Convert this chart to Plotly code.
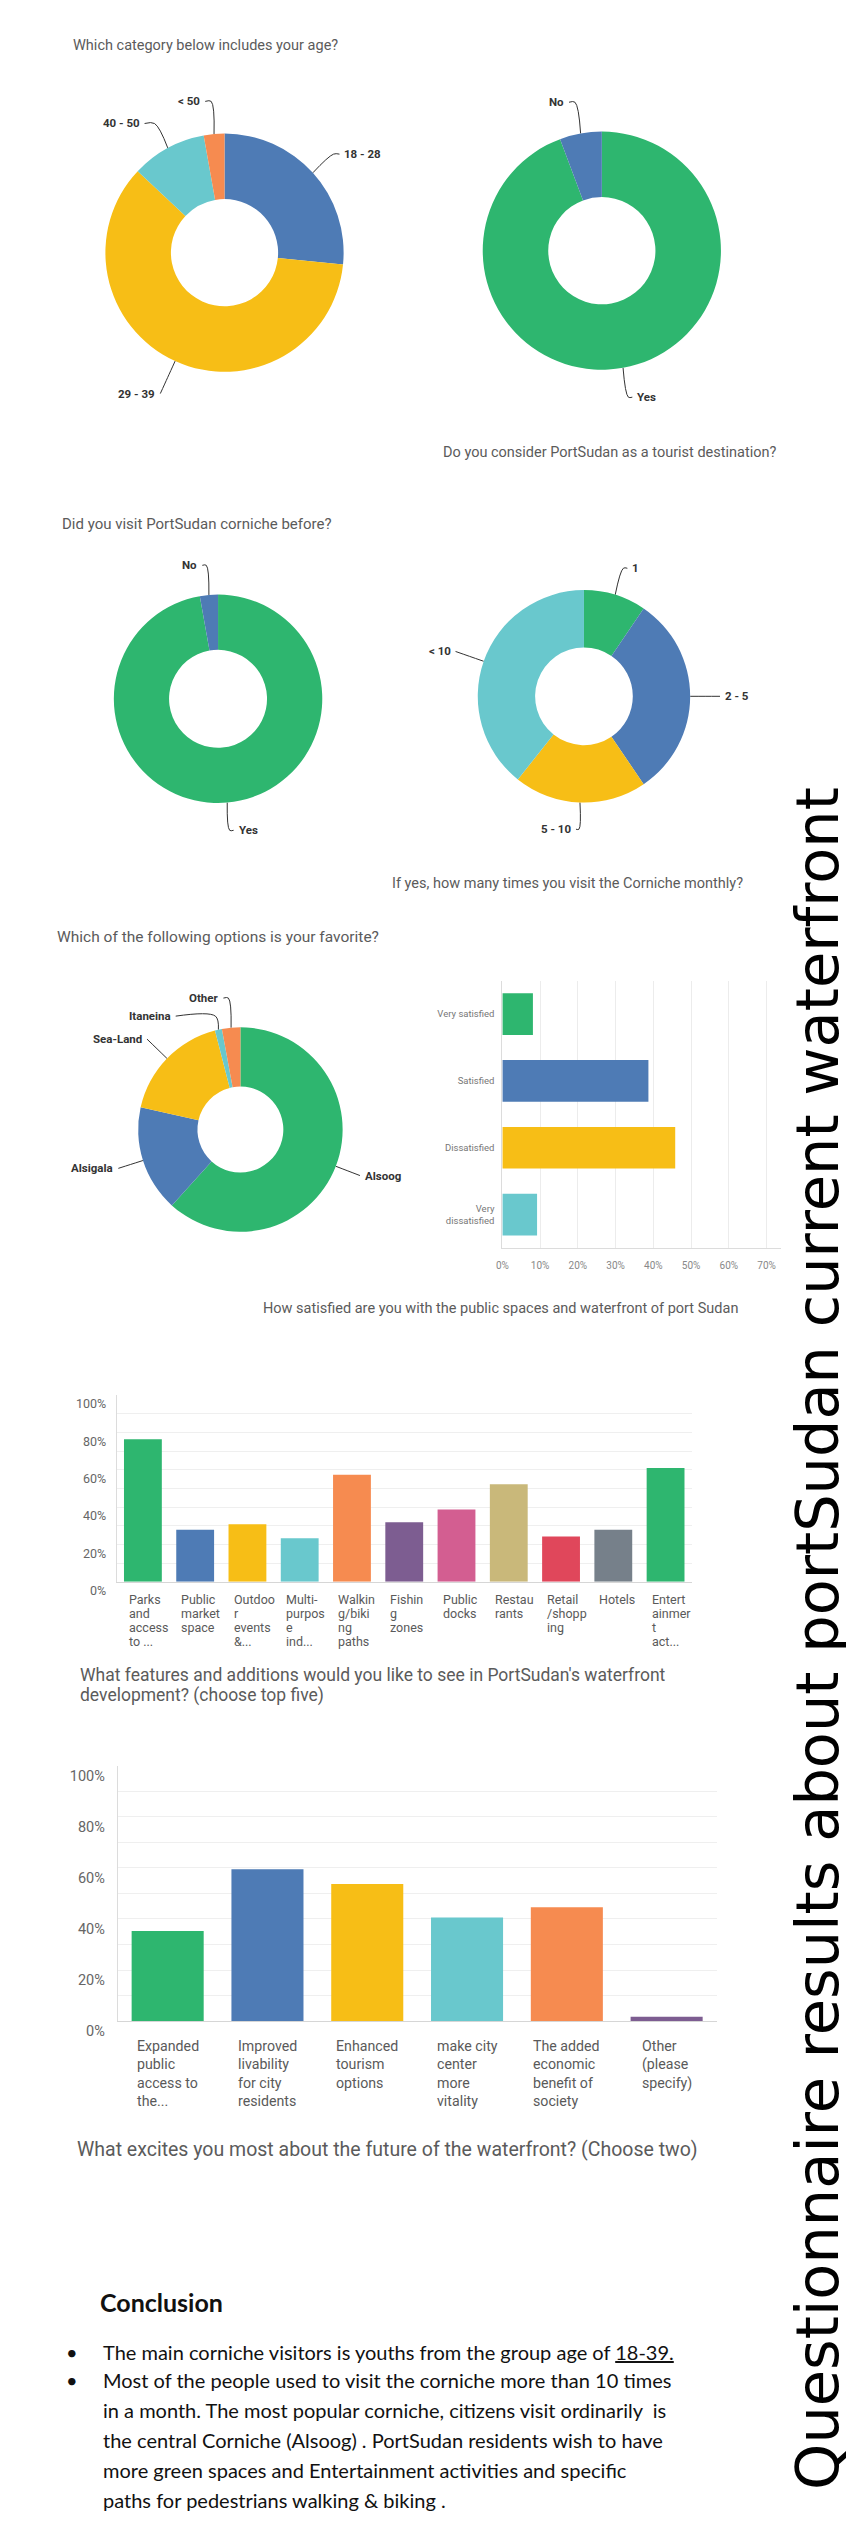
import math
import plotly.graph_objects as go

W, H = 854, 2541

# ---------------- data ----------------
age_labels = ["18 - 28", "29 - 39", "40 - 50", "< 50"]
age_values = [26.6, 60.4, 10.2, 2.8]

tourist_labels = ["Yes", "No"]
tourist_values = [94.3, 5.7]

visit_labels = ["Yes", "No"]
visit_values = [97.2, 2.8]

monthly_labels = ["1", "2 - 5", "5 - 10", "< 10"]
monthly_values = [9.5, 31.0, 20.2, 39.3]

favorite_labels = ["Alsoog", "Alsigala", "Sea-Land", "Itaneina", "Other"]
favorite_values = [61.7, 16.8, 17.5, 1.1, 2.9]

satisfaction_labels = ["Very satisfied", "Satisfied", "Dissatisfied", "Very<br>dissatisfied"]
satisfaction_values = [8.1, 38.7, 45.8, 9.2]
satisfaction_ticks = [0, 10, 20, 30, 40, 50, 60, 70]

feature_labels = [
    "Parks<br>and<br>access<br>to ...", "Public<br>market<br>space", "Outdoo<br>r<br>events<br>&...",
    "Multi-<br>purpos<br>e<br>ind...", "Walkin<br>g/biki<br>ng<br>paths", "Fishin<br>g<br>zones",
    "Public<br>docks", "Restau<br>rants", "Retail<br>/shopp<br>ing", "Hotels",
    "Entert<br>ainmer<br>t<br>act...",
]
feature_values = [76.4, 27.9, 30.9, 23.4, 57.4, 31.9, 38.8, 52.3, 24.3, 27.9, 61.0]

excite_labels = [
    "Expanded<br>public<br>access to<br>the...", "Improved<br>livability<br>for city<br>residents",
    "Enhanced<br>tourism<br>options", "make city<br>center<br>more<br>vitality",
    "The added<br>economic<br>benefit of<br>society", "Other<br>(please<br>specify)",
]
excite_values = [35.3, 59.5, 53.7, 40.6, 44.6, 1.7]

pct_ticks = [0, 20, 40, 60, 80, 100]
pct_minor = [10, 30, 50, 70, 90]

conclusion_lines = [
    "The main corniche visitors is youths from the group age of <u>18-39.</u>",
    "Most of the people used to visit the corniche more than 10 times",
    "in a month. The most popular corniche, citizens visit ordinarily  is",
    "the central Corniche (Alsoog) . PortSudan residents wish to have",
    "more green spaces and Entertainment activities and specific",
    "paths for pedestrians walking & biking .",
]
conclusion_bullets = [True, True, False, False, False, False]

# ---------------- style ----------------
GREEN, BLUE, YELLOW, TEAL, ORANGE = "#2EB66F", "#4E7BB5", "#F7BE16", "#69C8CD", "#F68B50"
PURPLE, PINK, KHAKI, RED, GRAY = "#7D5D91", "#D35E91", "#C9B87A", "#E0475B", "#76808A"
CAP = "#5b5b5b"
SM_FONT = "Roboto"

fig = go.Figure()

# full-canvas pixel axis (for text and leader lines)
fig.update_layout(
    xaxis=dict(domain=[0, 1], range=[0, W], visible=False, fixedrange=True),
    yaxis=dict(domain=[0, 1], range=[H, 0], visible=False, fixedrange=True),
)


def text(x, y, s, size, color=CAP, family=SM_FONT, xanchor="left", **kw):
    fig.add_annotation(x=x, y=y, xref="x", yref="y", text=s, showarrow=False,
                       xanchor=xanchor, yanchor="middle",
                       font=dict(family=family, size=size, color=color), **kw)


def donut(cx, cy, r, hole, labels, values, colors, leaders):
    fig.add_trace(go.Pie(
        labels=labels, values=values, hole=hole, sort=False, direction="clockwise",
        rotation=0, marker=dict(colors=colors, line=dict(width=0)), textinfo="none",
        hoverinfo="skip", showlegend=False,
        domain=dict(x=[(cx - r) / W, (cx + r) / W], y=[1 - (cy + r) / H, 1 - (cy - r) / H]),
    ))
    total = float(sum(values))
    cum = 0.0
    for lab, v, (L, extra) in zip(labels, values, leaders):
        mid = (cum + v / 2.0) / total * 2 * math.pi
        cum += v
        dx, dy = math.sin(mid), -math.cos(mid)
        side = 1 if dx >= 0 else -1
        x0, y0 = cx + r * dx, cy + r * dy
        xa, ya = cx + (r + L) * dx, cy + (r + L) * dy
        if extra > 0:
            xs = [x0, xa, xa + side * extra]
            ys = [y0, ya, ya]
        else:
            xs = [x0, cx + (r + L * 0.5) * dx, xa]
            ys = [y0, cy + (r + L * 0.5) * dy, ya]
        fig.add_trace(go.Scatter(x=xs, y=ys, mode="lines", xaxis="x", yaxis="y",
                                 line=dict(color="#333333", width=1, shape="spline"),
                                 hoverinfo="skip", showlegend=False))
        text(xs[-1] + side * 3, ys[-1], "<b>" + lab + "</b>", 11.5, color="#333333",
             xanchor="left" if side > 0 else "right")


# ---------------- donuts ----------------
donut(212, 246.5, 120, 0.45, age_labels, age_values, [BLUE, YELLOW, TEAL, ORANGE],
      [(28, 6), (36, 0), (28, 10), (33, 6)])
donut(592, 244.5, 120, 0.45, tourist_labels, tourist_values, [GREEN, BLUE],
      [(30, 4), (32, 6)])
donut(205.5, 696, 105, 0.47, visit_labels, visit_values, [GREEN, BLUE],
      [(28, 4), (30, 4)])
donut(574, 693.5, 107, 0.46, monthly_labels, monthly_values, [GREEN, BLUE, YELLOW, TEAL],
      [(28, 4), (30, 0), (27, 3), (30, 0)])
donut(228, 1130, 103, 0.42, favorite_labels, favorite_values, [GREEN, BLUE, YELLOW, TEAL, ORANGE],
      [(26, 0), (26, 0), (28, 0), (14, 40), (30, 5)])

# ---------------- satisfaction (horizontal bars) ----------------
fig.add_trace(go.Bar(
    x=satisfaction_values, y=satisfaction_labels, orientation="h", width=0.624,
    marker=dict(color=[GREEN, BLUE, YELLOW, TEAL], line=dict(width=0)),
    xaxis="x2", yaxis="y2", hoverinfo="skip", showlegend=False,
))
fig.update_layout(
    xaxis2=dict(domain=[491.8 / W, 772.7 / W], anchor="y2", range=[0, 73.9],
                tickvals=satisfaction_ticks, ticktext=[f"{t}%" for t in satisfaction_ticks],
                showgrid=True, gridcolor="#ececec", zeroline=False, showline=True,
                linecolor="#dcdcdc", ticks="", tickfont=dict(family=SM_FONT, size=10, color="#888888"),
                ticklabelstandoff=8, fixedrange=True),
    yaxis2=dict(domain=[1 - 1249.3 / H, 1 - 980 / H], anchor="x2", type="category",
                categoryorder="array", categoryarray=satisfaction_labels, range=[3.5, -0.5],
                showgrid=False, showline=True, linecolor="#dcdcdc", ticks="", zeroline=False,
                tickfont=dict(family=SM_FONT, size=9.5, color="#777777"),
                ticklabelstandoff=5, fixedrange=True),
)

# ---------------- features (vertical bars) ----------------
feat_w = 0.724
fig.add_trace(go.Bar(
    x=list(range(len(feature_values))), y=feature_values, width=feat_w,
    marker=dict(color=[GREEN, BLUE, YELLOW, TEAL, ORANGE, PURPLE, PINK, KHAKI, RED, GRAY, GREEN],
                line=dict(width=0)),
    xaxis="x3", yaxis="y3", hoverinfo="skip", showlegend=False,
))
fig.update_layout(
    xaxis3=dict(domain=[103.5 / W, 682.5 / W], anchor="y3", range=[-0.5, len(feature_values) - 0.5],
                showticklabels=False, showgrid=False, zeroline=False, showline=True,
                linecolor="#d6d6d6", ticks="", fixedrange=True),
    yaxis3=dict(domain=[1 - 1585.7 / H, 1 - 1397.7 / H], anchor="x3", range=[0, 100],
                tickvals=pct_ticks, ticktext=[f"{t}%" for t in pct_ticks],
                showgrid=True, gridcolor="#efefef", zeroline=False, showline=True,
                linecolor="#dcdcdc", ticks="", ticklabelposition="outside bottom",
                minor=dict(tickvals=pct_minor, showgrid=True, gridcolor="#efefef"),
                tickfont=dict(family=SM_FONT, size=12.5, color="#666666"),
                ticklabelstandoff=7, fixedrange=True),
)
for i, lab in enumerate(feature_labels):
    for k, line in enumerate(lab.split("<br>")):
        fig.add_annotation(x=i - feat_w / 2, y=1603 + k * 14.2, xref="x3", yref="y", text=line,
                           showarrow=False, xanchor="left", yanchor="middle", xshift=3,
                           font=dict(family=SM_FONT, size=12.5, color="#5a5a5a"))

# ---------------- excites (vertical bars) ----------------
exc_w = 0.722
fig.add_trace(go.Bar(
    x=list(range(len(excite_values))), y=excite_values, width=exc_w,
    marker=dict(color=[GREEN, BLUE, YELLOW, TEAL, ORANGE, PURPLE], line=dict(width=0)),
    xaxis="x4", yaxis="y4", hoverinfo="skip", showlegend=False,
))
fig.update_layout(
    xaxis4=dict(domain=[104.5 / W, 707.5 / W], anchor="y4", range=[-0.5, len(excite_values) - 0.5],
                showticklabels=False, showgrid=False, zeroline=False, showline=True,
                linecolor="#d6d6d6", ticks="", fixedrange=True),
    yaxis4=dict(domain=[1 - 2028.3 / H, 1 - 1771 / H], anchor="x4", range=[0, 100],
                tickvals=pct_ticks, ticktext=[f"{t}%" for t in pct_ticks],
                showgrid=True, gridcolor="#efefef", zeroline=False, showline=True,
                linecolor="#dcdcdc", ticks="", ticklabelposition="outside bottom",
                minor=dict(tickvals=pct_minor, showgrid=True, gridcolor="#efefef"),
                tickfont=dict(family=SM_FONT, size=14.5, color="#666666"),
                ticklabelstandoff=9, fixedrange=True),
)
for i, lab in enumerate(excite_labels):
    fig.add_annotation(x=i, y=2043, xref="x4", yref="y", text=lab, showarrow=False,
                       xanchor="center", yanchor="top", align="left",
                       font=dict(family=SM_FONT, size=14.2, color="#5a5a5a"))

# ---------------- captions ----------------
text(57, 38, "Which category below includes your age?", 14.5)
text(430, 448, "Do you consider PortSudan as a tourist destination?", 14.5)
text(46, 520, "Did you visit PortSudan corniche before?", 15)
text(378.5, 881.7, "If yes, how many times you visit the Corniche monthly?", 14.5)
text(41, 936, "Which of the following options is your favorite?", 15.5)
text(249, 1310.7, "How satisfied are you with the public spaces and waterfront of port Sudan", 14.5)
text(64.7, 1680, "What features and additions would you like to see in PortSudan's waterfront", 17.5)
text(64.7, 1700, "development? (choose top five)", 17.5)
text(61.5, 2157.3, "What excites you most about the future of the waterfront? (Choose two)", 19.5)

# ---------------- conclusion ----------------
text(84.4, 2311.7, "<b>Conclusion</b>", 25, color="#111111", family="Lato")
conc_y = [2361.7, 2390, 2420, 2450, 2481, 2511]
for line, bul, y in zip(conclusion_lines, conclusion_bullets, conc_y):
    if bul:
        text(50.7, y, "•", 20, color="#111111", family="Lato")
    text(87.4, y, line, 20, color="#111111", family="Lato")

# ---------------- vertical title ----------------
fig.add_annotation(x=809, y=1643, xref="x", yref="y", showarrow=False, textangle=-90,
                   text="Questionnaire results about portSudan current waterfront",
                   xanchor="center", yanchor="middle",
                   font=dict(family="DejaVu Sans", size=59, color="#000000"))

fig.update_layout(width=W, height=H, margin=dict(l=0, r=0, t=0, b=0),
                  paper_bgcolor="white", plot_bgcolor="rgba(0,0,0,0)", showlegend=False)

fig.write_html("out.html")
